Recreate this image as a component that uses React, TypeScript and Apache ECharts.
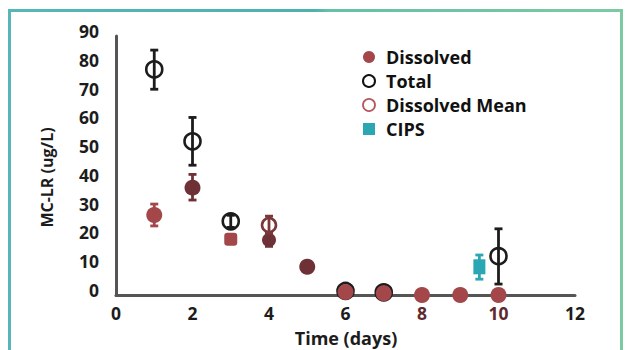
import React, { useEffect, useRef } from 'react';
import * as echarts from 'echarts';

// ---- data ----
const xTickLabels = ['0', '2', '4', '6', '8', '10', '12'];

const dissolvedDays = [1, 2, 3, 4, 5, 6, 7, 8, 9, 10];
const dissolvedValues = [27.8, 37.3, 19.4, 19.1, 9.8, 1.0, 0.6, 0, 0, 0];
const dissolvedLow = [24.0, 33.0, null, 16.9, null, null, null, null, null, null];
const dissolvedHigh = [31.6, 41.9, null, 21.5, null, null, null, null, null, null];

const totalDays = [1, 2, 3, 6, 7, 10];
const totalValues = [78.4, 53.4, 25.6, 1.4, 0.9, 13.5];
const totalLow = [71.5, 45.1, 23.5, null, null, 3.8];
const totalHigh = [85.1, 61.7, 27.7, null, null, 23.0];

const meanDays = [4];
const meanValues = [24.3];
const meanLow = [21.5];
const meanHigh = [27.4];

const cipsDays = [9.5];
const cipsValues = [9.8];
const cipsLow = [5.5];
const cipsHigh = [13.9];

// ---- styles ----
const FONT = 'Open Sans';
const RED = '#a3474b';
const DARK_RED = '#6e3236';
const TEAL = '#2aa7b2';
const INK = '#1c1c1c';
const darkDissolved = new Set([1, 3, 4]);

function errData(days: number[], low: (number | null)[], high: (number | null)[]) {
  const out: number[][] = [];
  days.forEach((d, i) => {
    if (low[i] != null && high[i] != null) out.push([d, low[i] as number, high[i] as number, i]);
  });
  return out;
}

function errorBars(data: number[][], colorFor: (i: number) => string, z: number) {
  return {
    type: 'custom',
    z,
    silent: true,
    data,
    encode: { x: 0, y: [1, 2] },
    renderItem: (params: any, api: any) => {
      const x = api.value(0);
      const lo = api.coord([x, api.value(1)]);
      const hi = api.coord([x, api.value(2)]);
      const w = 4;
      const style = { stroke: colorFor(api.value(3)), lineWidth: 2.8 };
      return {
        type: 'group',
        children: [
          { type: 'line', shape: { x1: lo[0], y1: lo[1], x2: hi[0], y2: hi[1] }, style },
          { type: 'line', shape: { x1: lo[0] - w, y1: lo[1], x2: lo[0] + w, y2: lo[1] }, style },
          { type: 'line', shape: { x1: hi[0] - w, y1: hi[1], x2: hi[0] + w, y2: hi[1] }, style },
        ],
      };
    },
  };
}

export default function App() {
  const ref = useRef<HTMLDivElement>(null);
  useEffect(() => {
    if (!ref.current) return;
    const chart = echarts.init(ref.current, undefined, { renderer: 'svg' });

    const dissolvedData = dissolvedDays.map((d, i) => {
      const c = darkDissolved.has(i) ? DARK_RED : RED;
      const item: any = { value: [d, dissolvedValues[i]], itemStyle: { color: c } };
      if (i === 2) { item.symbol = 'roundRect'; item.symbolSize = 13; }
      if (i === 3) { item.symbolSize = 14; }
      return item;
    });

    const option: any = {
      animation: false,
      backgroundColor: '#ffffff',
      grid: { left: 116, right: 54, top: 36, bottom: 55 },
      xAxis: {
        type: 'value',
        min: 0,
        max: 12,
        interval: 2,
        splitLine: { show: false },
        axisTick: { show: false },
        axisLine: { show: true, lineStyle: { color: '#555', width: 3 } },
        axisLabel: {
          margin: 9,
          fontFamily: FONT,
          fontWeight: 'bold',
          fontSize: 17.5,
          color: (v: any) => (String(v) === '8' || String(v) === '10' ? '#5e2a2e' : INK),
          formatter: (v: number) => xTickLabels[Math.round(v / 2)] ?? String(v),
        },
      },
      yAxis: {
        type: 'value',
        min: 0,
        max: 90,
        interval: 10,
        splitLine: { show: false },
        axisTick: { show: false },
        axisLine: { show: true, lineStyle: { color: '#555', width: 3 } },
        axisLabel: {
          margin: 17,
          fontFamily: FONT,
          fontWeight: 'bold',
          fontSize: 17.5,
          color: INK,
          verticalAlign: 'bottom',
          lineHeight: 10,
        },
      },
      legend: {
        orient: 'vertical',
        left: 362,
        top: 48,
        padding: 0,
        itemGap: 6,
        itemWidth: 12,
        itemHeight: 12,
        textStyle: {
          fontFamily: FONT,
          fontWeight: 'bold',
          fontSize: 18,
          color: '#111',
          lineHeight: 16,
          padding: [0, 0, 0, 6],
        },
        data: [
          { name: 'Dissolved', icon: 'circle', itemStyle: { color: RED, borderWidth: 0 } },
          { name: 'Total', icon: 'circle', itemStyle: { color: '#fff', borderColor: '#111', borderWidth: 2 } },
          { name: 'Dissolved Mean', icon: 'circle', itemStyle: { color: '#fff', borderColor: '#b5575a', borderWidth: 1.8 } },
          { name: 'CIPS', icon: 'rect', itemStyle: { color: TEAL, borderWidth: 0 } },
        ],
      },
      graphic: [
        {
          type: 'rect',
          silent: true,
          shape: { x: 9.5, y: 10.5, width: 612, height: 400 },
          style: {
            fill: 'none',
            lineWidth: 3,
            stroke: new echarts.graphic.LinearGradient(0, 0, 1, 0, [
              { offset: 0, color: '#56b6b8' },
              { offset: 0.5, color: '#4fb0ae' },
              { offset: 0.52, color: '#66c0a6' },
              { offset: 1, color: '#7ccaa2' },
            ]),
          },
        },
        {
          type: 'text',
          x: 346,
          y: 338,
          style: {
            text: 'Time (days)',
            fontFamily: FONT,
            fontWeight: 'bold',
            fontSize: 18,
            fill: INK,
            align: 'center',
            verticalAlign: 'middle',
          },
        },
        {
          type: 'text',
          x: 47,
          y: 177.5,
          rotation: Math.PI / 2,
          style: {
            text: 'MC-LR (ug/L)',
            fontFamily: FONT,
            fontWeight: 'bold',
            fontSize: 16,
            fill: INK,
            align: 'center',
            verticalAlign: 'middle',
          },
        },
      ],
      series: [
        {
          name: 'Total',
          type: 'scatter',
          z: 2,
          symbol: 'circle',
          symbolSize: 16,
          itemStyle: { color: 'rgba(255,255,255,0)', borderColor: INK, borderWidth: 2.6, opacity: 1 },
          data: totalDays.map((d, i) => [d, totalValues[i]]),
        },
        {
          name: 'Dissolved',
          type: 'scatter',
          z: 3,
          symbol: 'circle',
          symbolSize: 16,
          itemStyle: { color: RED, opacity: 1 },
          data: dissolvedData,
        },
        {
          name: 'Dissolved Mean',
          type: 'scatter',
          z: 4,
          symbol: 'circle',
          symbolSize: 14,
          itemStyle: { color: 'rgba(255,255,255,0)', borderColor: '#7a383b', borderWidth: 2.6, opacity: 1 },
          data: meanDays.map((d, i) => [d, meanValues[i]]),
        },
        {
          name: 'CIPS',
          type: 'scatter',
          z: 4,
          symbol: 'rect',
          symbolSize: [12, 15],
          itemStyle: { color: TEAL, opacity: 1 },
          data: cipsDays.map((d, i) => [d, cipsValues[i]]),
        },
        errorBars(errData(dissolvedDays, dissolvedLow, dissolvedHigh), (i) => (darkDissolved.has(i) ? DARK_RED : RED), 5),
        errorBars(errData(totalDays, totalLow, totalHigh), () => INK, 5),
        errorBars(errData(meanDays, meanLow, meanHigh), () => '#7a383b', 5),
        errorBars(errData(cipsDays, cipsLow, cipsHigh), () => TEAL, 5),
      ],
    };
    chart.setOption(option);
    return () => chart.dispose();
  }, []);

  return (
    <div
      ref={ref}
      style={{ position: 'fixed', left: 0, top: 0, width: 629, height: 350, background: '#fff' }}
    />
  );
}
